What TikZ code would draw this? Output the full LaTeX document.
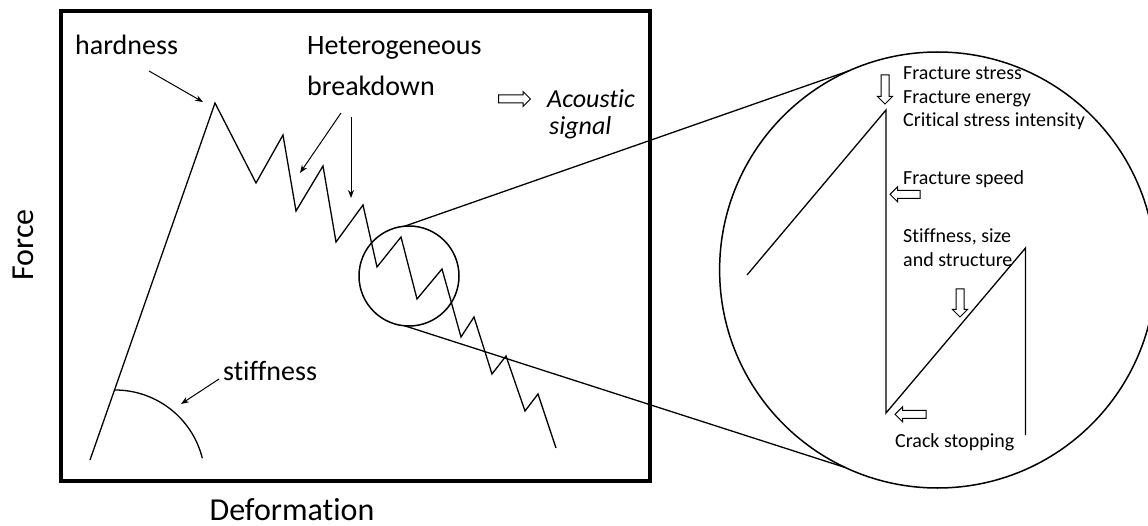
\documentclass[tikz,border=0pt]{standalone}
\usepackage{fontspec}
\setmainfont{Carlito}[Ligatures=NoCommon]
\usetikzlibrary{arrows.meta,shapes.arrows}
\begin{document}
\begin{tikzpicture}[x=1pt,y=-1pt,
  curve/.style={line width=1.3pt, line join=miter},
  lbl/.style={font=\fontsize{28}{34}\selectfont, inner sep=0pt, anchor=base west},
  inlbl/.style={font=\fontsize{20}{23}\selectfont, inner sep=0pt, anchor=base west},
  axlbl/.style={font=\fontsize{32}{38}\selectfont, inner sep=0pt},
  ptr/.style={-{Stealth[length=8pt,width=6pt]}, line width=1pt},
  hollow/.style={single arrow, draw, line width=1pt, fill=white, inner xsep=0pt, inner ysep=3.5pt, single arrow head extend=3.5pt, outer sep=0pt},
  ring/.style={circle, draw, line width=1.5pt, inner sep=0pt, outer sep=0pt}
]
\useasboundingbox (0,0) rectangle (1148,526);
\clip (0,0) rectangle (1148,526);

% frame
\draw[line width=3.5pt] (61,11) rectangle (650,481);

% force-deformation curve
\draw[curve] (90,460) -- (215,103) -- (256,183) -- (283,135) -- (296,211) -- (323,166) -- (336,242) -- (363,205) -- (377,267) -- (401,237) -- (417,299) -- (442,269) -- (461,337) -- (474,317) -- (492,374) -- (506,356) -- (525,411) -- (538,394) -- (556,448);

% stiffness arc
\draw[line width=1.3pt] (115,390) arc[start angle=-90, end angle=-14, radius=90];

% zoom circles
\node[ring, minimum size=100pt] (zc) at (409,276) {};
\node[ring, minimum size=436pt] (bc) at (937.6,270) {};
\draw[line width=1.3pt] (zc.95) -- (bc.114);
\draw[line width=1.3pt] (zc.265) -- (bc.245);

% labels
\node[lbl] (hard) at (75,55) {hardness};
\node[lbl] (het1) at (307,55) {Heterogeneous};
\node[lbl] (het2) at (307,96) {breakdown};
\node[lbl, font=\fontsize{26}{31}\selectfont\itshape] (ac1) at (547,108) {Acoustic};
\node[lbl, font=\fontsize{26}{31}\selectfont\itshape] (ac2) at (549,135) {signal};
\node[lbl] (stf) at (223,380) {stiffness};
\node[axlbl, rotate=90] (force) at (23,245) {Force};
\node[axlbl, anchor=base] (defo) at (292,520) {Deformation};

% pointer arrows
\coordinate (hp) at (203,102);
\coordinate (b1) at (300,173);
\coordinate (b2) at (351,198);
\coordinate (sp) at (181,404);
\draw[ptr] (149,71) -- (hp);
\draw[ptr] (341,113) -- (b1);
\draw[ptr] (351,117) -- (b2);
\draw[ptr] (219,379) -- (sp);

% hollow arrow for acoustic signal
\node[hollow, minimum height=32pt] (aa) at (512.5,99) {};

% magnified detail
\draw[curve] (747,275) -- (886,110) -- (886,413) -- (1025.5,248) -- (1025.5,435);
\node[hollow, rotate=-90, minimum height=29pt] (fa1) at (885,87.5) {};
\node[hollow, rotate=180, minimum height=30pt] (fa2) at (907,194.3) {};
\node[hollow, rotate=-90, minimum height=28pt] (fa3) at (960,301) {};
\node[hollow, rotate=180, minimum height=31pt] (fa4) at (912.5,414.3) {};

\node[inlbl] (t1) at (903,80) {Fracture stress};
\node[inlbl] (t2) at (903,104) {Fracture energy};
\node[inlbl] (t3) at (903,127) {Critical stress intensity};
\node[inlbl] (t4) at (903,185) {Fracture speed};
\node[inlbl] (t5) at (903,243) {Stiffness, size};
\node[inlbl] (t6) at (903,267) {and structure};
\node[inlbl] (t7) at (895,447) {Crack stopping};
\end{tikzpicture}
\end{document}
